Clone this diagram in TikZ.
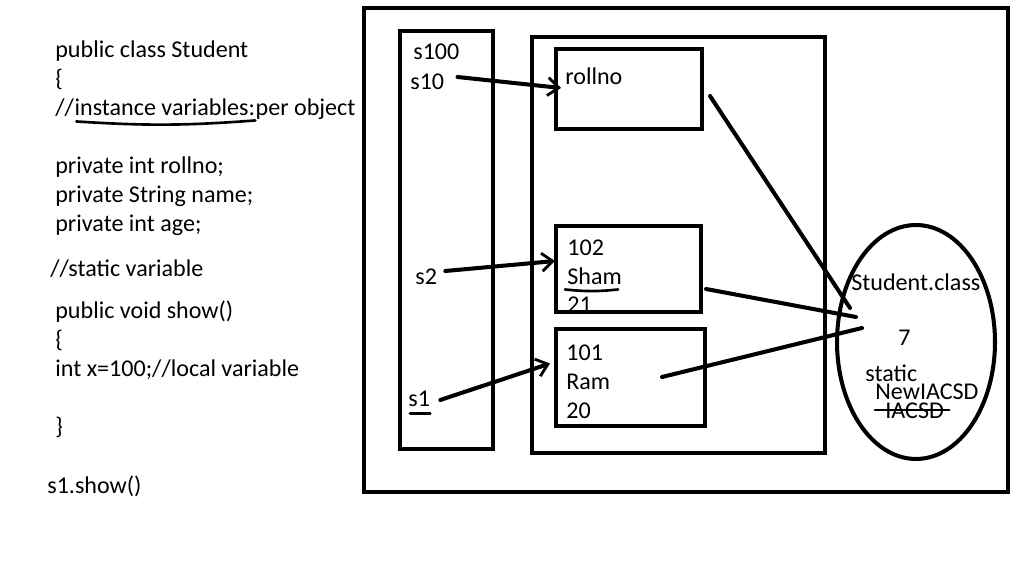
\documentclass[tikz,border=0pt]{standalone}
\usepackage{fontspec}
\setmainfont{Carlito}
\usetikzlibrary{calc, shapes.geometric, arrows.meta}
\newcommand{\codefont}{\fontsize{13.7}{16.4}\selectfont}

\begin{document}
\begin{tikzpicture}[x=0.02cm, y=-0.02cm,
box/.style={draw, line width=2.3pt, rectangle, inner sep=0pt},
txt/.style={font=\codefont, inner sep=0pt, anchor=west, text height=0.95em, text depth=0.2em},
tight/.style={font=\codefont, inner sep=0pt, anchor=base west, text height=0.62em, text depth=0pt},
ptr/.style={line width=2.3pt, line cap=round, -{Straight Barb[length=2.2mm, width=3.6mm, line width=1.6pt]}},
link/.style={line width=2.3pt, line cap=round},
scribble/.style={line width=1.5pt, line cap=round}]
\useasboundingbox (0,0) rectangle (1018,567);
% the class source
\node[txt] (c1) at (55,51) {public class Student};
\node[txt] (c2) at (55,80) {\{};
\node[txt] (c3) at (55,109) {//};
\node[txt, anchor=west] (instvar) at (c3.east) {instance variables:};
\node[txt, anchor=west] (perobj) at (instvar.east) {per object};
\node[txt] (c4) at (55,167) {private int rollno;};
\node[txt] (c5) at (55,196) {private String name;};
\node[txt] (c6) at (55,225) {private int age;};
\node[txt] (c7) at (50,270) {//static variable};
\node[txt] (c8) at (55,312) {public void show()};
\node[txt] (c9) at (55,341) {\{};
\node[txt] (c10) at (55,370) {int x=100;//local variable};
\node[txt] (c11) at (55,428) {\}};
\node[txt] (call) at (47,487) {s1.show()};
\draw[scribble] ($(instvar.south west)+(2,2)$) to[bend right=4] ($(instvar.south east)+(0,1)$);
% memory
\node[box, minimum width=12.88cm, minimum height=9.68cm] (memory) at (686,250) {};
\node[box, minimum width=1.86cm, minimum height=8.36cm] (stack) at (446.5,240) {};
\node[box, minimum width=5.86cm, minimum height=8.32cm] (heap) at (678.5,245) {};
\node[box, minimum width=2.92cm, minimum height=1.6cm] (rollbox) at (629,89) {};
\node[box, minimum width=2.9cm, minimum height=1.72cm] (shambox) at (628.5,269) {};
\node[box, minimum width=2.98cm, minimum height=1.94cm] (rambox) at (630.5,377.5) {};
\node[draw, ellipse, line width=2.3pt, minimum width=3.16cm, minimum height=4.68cm] (cls) at (916,342) {};
% references
\node[txt] (s100) at (413,53) {s100};
\node[txt] (s10) at (410,83) {s10};
\node[txt] (s2) at (415,278) {s2};
\node[txt] (s1) at (408,400) {s1};
\draw[scribble] ($(s1.south west)+(2,3)$) -- ($(s1.south east)+(0,3)$);
% objects
\node[txt] (rollno) at (565,78) {rollno};
\node[txt] (id2) at (567,249) {102};
\node[txt] (name2) at (567,278) {Sham};
\begin{scope}
\clip (shambox.south west) rectangle (shambox.north east);
\node[txt] (age2) at (567,306) {21};
\end{scope}
\draw[scribble] ($(name2.south west)+(-2,1)$) to[bend right=6] ($(name2.south east)+(-4,1)$);
\node[txt] (id1) at (566,354) {101};
\node[txt] (name1) at (566,383) {Ram};
\node[txt] (age1) at (566,412) {20};
% class area
\node[txt] (clsname) at (851,284) {Student.class};
\node[txt] (seven) at (898,339) {7};
\node[tight] (stat) at (865,382) {static};
\node[tight] (newval) at (875,400) {NewIACSD};
\node[tight] (oldval) at (885,419) {IACSD};
\draw[scribble] ($(oldval.base west)+(-10,-9)$) -- ($(oldval.base east)+(5,-9)$);
% connectors
\draw[ptr] ($(s10.east)+(13,-6)$) -- ($(rollbox.west)+(7,-1)$);
\draw[ptr] ($(s2.east)+(8,-7)$) -- ($(shambox.west)+(1,-8)$);
\draw[ptr] ($(s1.east)+(10,0)$) -- ($(rambox.west)+(-4,-14)$);
\coordinate (hit1) at (850,308);
\coordinate (hit2) at (856,317);
\coordinate (hit3) at (862,328);
\coordinate (ramdot) at (662,377);
\draw[link] ($(rollbox.east)+(6,7)$) -- (hit1);
\draw[link] ($(shambox.east)+(3,20)$) -- (hit2);
\draw[link] (ramdot) -- (hit3);
\end{tikzpicture}
\end{document}
